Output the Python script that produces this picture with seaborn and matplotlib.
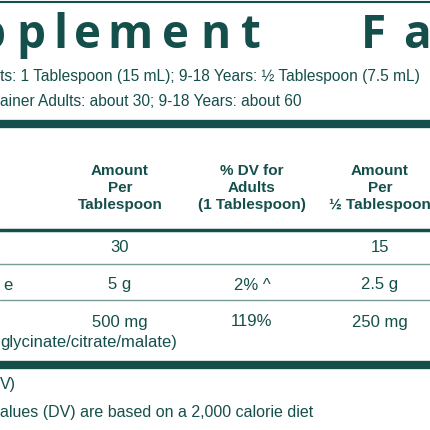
import matplotlib
matplotlib.use("Agg")
import matplotlib.pyplot as plt
import seaborn as sns

sns.set_theme(style="white")
plt.rcParams['font.family'] = ['Liberation Sans', 'DejaVu Sans']

TEAL = "#154f4b"
title_letters = ["p", "p", "l", "e", "m", "e", "n", "t", "F", "a"]
title_x = [-9, 31, 60, 87, 130, 176, 215, 251, 373, 417]
serving_lines = ["ts: 1 Tablespoon (15 mL); 9-18 Years: ½ Tablespoon (7.5 mL)",
                 "ainer Adults: about 30; 9-18 Years: about 60"]
headers = ["Amount\nPer\nTablespoon", "% DV for\nAdults\n(1 Tablespoon)", "Amount\nPer\n½ Tablespoon"]
row_labels = ["", "e", ""]
amount_full = ["30", "5 g", "500 mg"]
dv_adults = ["", "2% ^", "119%"]
amount_half = ["15", "2.5 g", "250 mg"]
sub_note = "glycinate/citrate/malate)"
footer = ["V)", "alues (DV) are based on a 2,000 calorie diet"]

fig = plt.figure(figsize=(4.3, 4.3), dpi=100)
ax = fig.add_axes([0, 0, 1, 1])
ax.set_xlim(0, 430); ax.set_ylim(430, 0); ax.axis("off")

for ch, x in zip(title_letters, title_x):
    ax.text(x, 48, ch, ha="center", va="baseline", fontsize=33, fontweight="bold",
            color=TEAL, family=["Open Sans", "DejaVu Sans"])

ax.axhline(2, color=TEAL, lw=1.5)
for i, s in enumerate(serving_lines):
    ax.text(0, 77 + 24 * i, s, ha="left", va="center", fontsize=11.2, color=TEAL)
ax.axhline(124, color=TEAL, lw=6)

col_x = [120, 252, 380]
for x, h in zip(col_x, headers):
    ax.text(x, 188, h, ha="center", va="center", fontsize=11, fontweight="bold",
            color=TEAL, linespacing=1.25)
ax.axhline(230, color=TEAL, lw=2.5)

row_y = [248, 285, 322]
for i, y in enumerate(row_y):
    ax.text(3, y, row_labels[i], ha="left", va="center", fontsize=12, color=TEAL)
    ax.text(col_x[0], y, amount_full[i], ha="center", va="center", fontsize=12, color=TEAL)
    ax.text(col_x[1], y, dv_adults[i], ha="center", va="center", fontsize=12, color=TEAL)
    ax.text(col_x[2], y, amount_half[i], ha="center", va="center", fontsize=12, color=TEAL)
for y in [264, 300]:
    ax.axhline(y, color="#7a9c99", lw=1)
ax.text(0, 343, sub_note, ha="left", va="center", fontsize=12, color=TEAL)
ax.axhline(365, color=TEAL, lw=6)
for i, s in enumerate(footer):
    ax.text(0, 385 + 27 * i, s, ha="left", va="center", fontsize=11.5, color=TEAL)

fig.savefig("out.png", dpi=100, facecolor="white")
